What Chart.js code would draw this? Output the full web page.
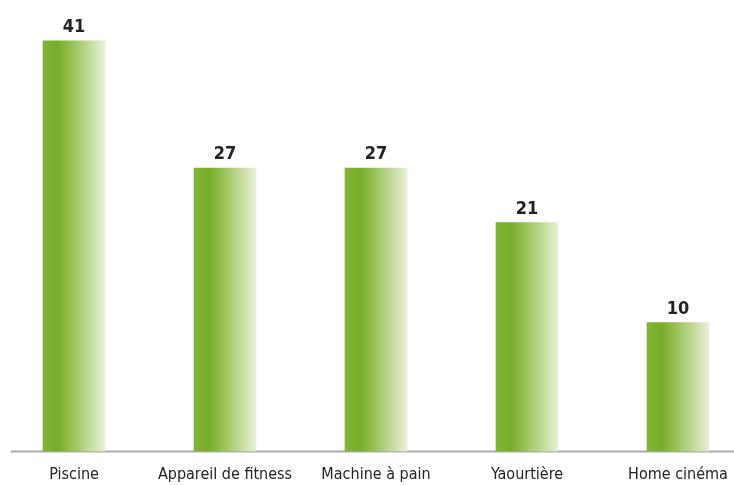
<!DOCTYPE html>
<html>
<head>
<meta charset="utf-8">
<script src="https://cdn.jsdelivr.net/npm/chart.js@4/dist/chart.umd.min.js"></script>
<style>
html,body{margin:0;padding:0;background:#fff;overflow:hidden;}
#wrap{position:relative;width:734px;height:485px;overflow:hidden;}
#c{position:absolute;left:-20px;top:0;}
</style>
</head>
<body>
<div id="wrap"><canvas id="c" width="800" height="485"></canvas></div>
<script>
const categories = ["Piscine", "Appareil de fitness", "Machine à pain", "Yaourtière", "Home cinéma"];
const values = [41, 27, 27, 21, 10];

const FONT = "'DejaVu Sans Condensed', 'Liberation Sans Narrow', sans-serif";
const Y_MIN = -4.17;
const Y_MAX = 45.5;
const BAR_W = 62;
const SHIFT = 20; // canvas is shifted left by this many px

function barGradient(ctx) {
  const chart = ctx.chart;
  const xs = chart.scales && chart.scales.x;
  if (!chart.chartArea || !xs || ctx.dataIndex == null) return '#7cb02e';
  const cx = xs.getPixelForValue(ctx.dataIndex);
  const g = chart.ctx.createLinearGradient(cx - BAR_W / 2, 0, cx + BAR_W / 2, 0);
  g.addColorStop(0, '#82b535');
  g.addColorStop(0.24, '#76ad29');
  g.addColorStop(0.5, '#9dc55e');
  g.addColorStop(1, '#e7f0d8');
  return g;
}

const baseline = {
  id: 'baseline',
  beforeDatasetsDraw(chart) {
    const c = chart.ctx;
    const y = chart.chartArea.bottom;
    c.save();
    c.strokeStyle = '#aaaaaa';
    c.lineWidth = 2;
    c.beginPath();
    c.moveTo(11 + SHIFT, y);
    c.lineTo(734 + SHIFT, y);
    c.stroke();
    c.restore();
  }
};

const valueLabels = {
  id: 'valueLabels',
  afterDatasetsDraw(chart) {
    const c = chart.ctx;
    const meta = chart.getDatasetMeta(0);
    c.save();
    c.font = "bold 18px " + FONT;
    c.fillStyle = '#222222';
    c.textAlign = 'center';
    c.textBaseline = 'alphabetic';
    meta.data.forEach((el, i) => {
      c.fillText(String(values[i]), el.x, el.y - 9);
    });
    c.restore();
  }
};

new Chart(document.getElementById('c'), {
  type: 'bar',
  data: {
    labels: categories,
    datasets: [{
      data: values,
      base: Y_MIN,
      barThickness: BAR_W,
      backgroundColor: barGradient,
      borderWidth: 0
    }]
  },
  options: {
    responsive: false,
    animation: false,
    layout: { padding: { left: 18.5, right: 26.5, top: 0, bottom: 0 } },
    plugins: { legend: { display: false }, tooltip: { enabled: false } },
    scales: {
      y: {
        display: false,
        min: Y_MIN,
        max: Y_MAX
      },
      x: {
        grid: { display: false, drawTicks: false },
        border: { display: false },
        ticks: {
          color: '#222222',
          font: { family: FONT, size: 16 },
          padding: 14,
          maxRotation: 0,
          autoSkip: false
        },
        afterFit(scale) { scale.height = 33.5; }
      }
    }
  },
  plugins: [baseline, valueLabels]
});
</script>
</body>
</html>
